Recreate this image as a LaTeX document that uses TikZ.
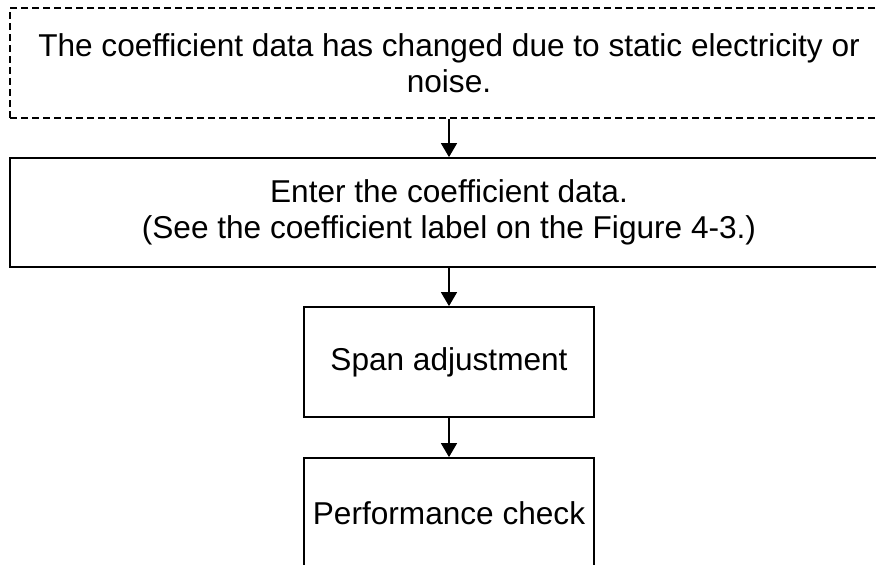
\documentclass[tikz,border=0pt]{standalone}
\usepackage{fontspec}
\setmainfont{Liberation Sans}
\usetikzlibrary{arrows.meta}
\begin{document}
\begin{tikzpicture}[x=1pt,y=-1pt,
  every node/.style={font=\fontsize{31.6}{36}\selectfont, align=center, inner sep=0pt},
  dbox/.style={draw=black, line width=1.4pt, dash pattern=on 7pt off 4pt},
  sbox/.style={draw=black, line width=1.8pt},
  arr/.style={draw=black, line width=1.5pt, -{Triangle[width=16pt,length=14pt]}}]
\useasboundingbox (0,0) rectangle (876,565);
\clip (0,0) rectangle (876,565);
\fill[white] (0,0) rectangle (876,565);
\node[dbox, minimum width=878pt, minimum height=110pt] (cause) at (449,63)
  {The coefficient data has changed due to static electricity or\\noise.};
\node[sbox, minimum width=878pt, minimum height=109pt] (enter) at (449,212.5)
  {Enter the coefficient data.\\(See the coefficient label on the Figure 4-3.)};
\node[sbox, minimum width=290pt, minimum height=110pt] (span) at (449,362)
  {Span adjustment};
\node[sbox, minimum width=290pt, minimum height=110pt] (perf) at (449,513)
  {Performance check};
\draw[arr] (cause.south) -- (enter.north);
\draw[arr] (enter.south) -- (span.north);
\draw[arr] (span.south) -- (perf.north);
\end{tikzpicture}
\end{document}
